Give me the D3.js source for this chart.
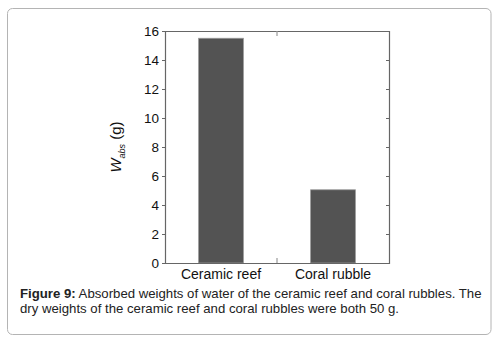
<!DOCTYPE html>
<html>
<head>
<meta charset="utf-8">
<script src="https://cdn.jsdelivr.net/npm/d3@7"></script>
<style>
  body { margin: 0; background: #fff; }
  svg { display: block; font-family: "Liberation Sans", Arial, sans-serif; }
</style>
</head>
<body>
<div id="chart"></div>
<script>
// data
var categories = ["Ceramic reef", "Coral rubble"];
var wabs = [15.5, 5.05];
var yTicks = [0, 2, 4, 6, 8, 10, 12, 14, 16];

var width = 503, height = 342;
var plotL = 165, plotR = 389, plotT = 31, plotB = 263;

var svg = d3.select("#chart").append("svg")
  .attr("width", width)
  .attr("height", height);

// rounded frame around figure + caption
svg.append("rect")
  .attr("x", 7.5).attr("y", 8.5)
  .attr("width", 483.5).attr("height", 326)
  .attr("rx", 5)
  .attr("fill", "#fff")
  .attr("stroke", "#b4b4b4");

var x = d3.scaleBand()
  .domain(categories)
  .range([plotL, plotR])
  .paddingInner(0.6)
  .paddingOuter(0.3);

var y = d3.scaleLinear()
  .domain([0, 16])
  .range([plotB, plotT]);

// bars
svg.append("g")
  .selectAll("rect")
  .data(wabs)
  .enter()
  .append("rect")
  .attr("x", function (d, i) { return x(categories[i]); })
  .attr("y", function (d) { return y(d); })
  .attr("width", x.bandwidth())
  .attr("height", function (d) { return plotB - y(d); })
  .attr("fill", "#535353")
  .attr("stroke", "#9a9a9a")
  .attr("stroke-width", 0.8);

// left axis, outward ticks
var yAxis = svg.append("g")
  .attr("transform", "translate(" + plotL + ",0)")
  .call(d3.axisLeft(y).tickValues(yTicks).tickSize(3).tickPadding(3));
yAxis.selectAll("text").attr("font-size", 13.5).attr("fill", "#111")
  .attr("font-family", "Liberation Sans, Arial, sans-serif");

// right axis, inward ticks
svg.append("g")
  .attr("transform", "translate(" + plotR + ",0)")
  .call(d3.axisLeft(y).tickValues(yTicks).tickSize(3).tickFormat(""));

// bottom + top axes with a single mid tick
var xMid = (plotL + plotR) / 2;
var xb = svg.append("g")
  .attr("transform", "translate(0," + plotB + ")")
  .call(d3.axisBottom(x).tickSize(0).tickPadding(6));
xb.selectAll("text").attr("font-size", 14).attr("fill", "#111")
  .attr("font-family", "Liberation Sans, Arial, sans-serif");
svg.append("g")
  .attr("transform", "translate(0," + plotT + ")")
  .call(d3.axisTop(x).tickSize(0).tickFormat(""));

svg.selectAll(".domain").attr("stroke", "#666").attr("stroke-width", 1.2);
svg.selectAll(".tick line").attr("stroke", "#666");

svg.append("line")
  .attr("x1", xMid).attr("x2", xMid)
  .attr("y1", plotB).attr("y2", plotB - 5)
  .attr("stroke", "#999").attr("stroke-width", 1.2);
svg.append("line")
  .attr("x1", xMid).attr("x2", xMid)
  .attr("y1", plotT).attr("y2", plotT + 5)
  .attr("stroke", "#999").attr("stroke-width", 1.2);

// y label W_abs (g)
var yl = svg.append("text")
  .attr("transform", "translate(121," + ((plotT + plotB) / 2) + ") rotate(-90)")
  .attr("text-anchor", "middle")
  .attr("font-size", 15)
  .attr("fill", "#111");
yl.append("tspan").attr("font-style", "italic").text("W");
yl.append("tspan").attr("font-size", 9).attr("font-style", "italic").attr("dy", 4).text("abs");
yl.append("tspan").attr("dy", -4).text(" (g)");

// caption
var cap = svg.append("text")
  .attr("x", 20).attr("y", 298)
  .attr("font-size", 13.2)
  .attr("fill", "#222");
cap.append("tspan").attr("font-weight", "bold").text("Figure 9:");
cap.append("tspan").text(" Absorbed weights of water of the ceramic reef and coral rubbles. The");
svg.append("text")
  .attr("x", 20).attr("y", 313)
  .attr("font-size", 13.2)
  .attr("fill", "#222")
  .text("dry weights of the ceramic reef and coral rubbles were both 50 g.");
</script>
</body>
</html>
